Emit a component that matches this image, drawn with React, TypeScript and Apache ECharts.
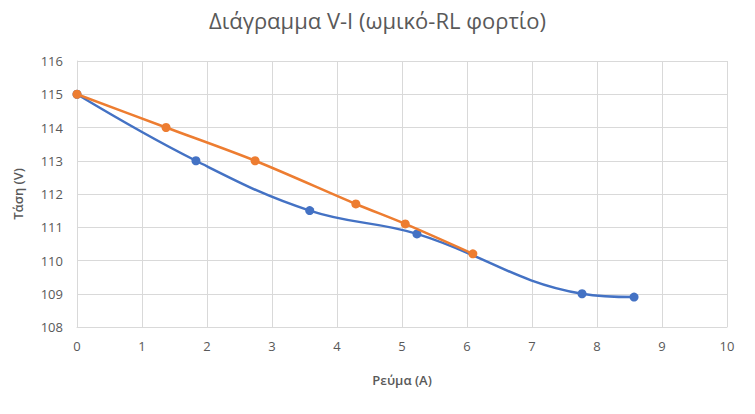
import React, { useEffect, useRef } from "react";
import * as echarts from "echarts";

const titleText = "Διάγραμμα V-I (ωμικό-RL φορτίο)";
const xName = "Ρεύμα (A)";
const yName = "Τάση (V)";

const blueI = [0, 1.83, 3.58, 5.23, 7.77, 8.57];
const blueV = [115, 113, 111.5, 110.8, 109, 108.9];
const orangeI = [0, 1.37, 2.74, 4.29, 5.05, 6.09];
const orangeV = [115, 114, 113, 111.7, 111.1, 110.2];

const FONT = "'Open Sans', 'Noto Sans', sans-serif";

export default function App() {
  const ref = useRef<HTMLDivElement>(null);
  useEffect(() => {
    if (!ref.current) return;
    const chart = echarts.init(ref.current, undefined, { renderer: "svg" });
    chart.setOption({
      animation: false,
      backgroundColor: "#ffffff",
      title: {
        text: titleText,
        left: "center",
        top: 4,
        textStyle: { fontFamily: FONT, fontSize: 22, fontWeight: "normal", color: "#595959" },
      },
      grid: { left: 77, right: 28, top: 61, bottom: 87 },
      xAxis: {
        type: "value",
        min: 0,
        max: 10,
        interval: 1,
        name: xName,
        nameLocation: "middle",
        nameGap: 46,
        nameTextStyle: { fontFamily: FONT, fontSize: 13, fontWeight: 600, color: "#595959" },
        axisLine: { show: true, lineStyle: { color: "#d9d9d9" } },
        axisTick: { show: false },
        axisLabel: { fontFamily: FONT, fontSize: 13, color: "#595959", margin: 12 },
        splitLine: { show: true, lineStyle: { color: "#d9d9d9", width: 1 } },
      },
      yAxis: {
        type: "value",
        min: 108,
        max: 116,
        interval: 1,
        name: yName,
        nameLocation: "middle",
        nameGap: 53,
        nameRotate: 90,
        nameTextStyle: { fontFamily: FONT, fontSize: 13, fontWeight: 600, color: "#595959" },
        axisLine: { show: true, lineStyle: { color: "#d9d9d9" } },
        axisTick: { show: false },
        axisLabel: { fontFamily: FONT, fontSize: 13, color: "#595959", margin: 14 },
        splitLine: { show: true, lineStyle: { color: "#d9d9d9", width: 1 } },
      },
      series: [
        {
          type: "line",
          data: blueI.map((x, i) => [x, blueV[i]]),
          smooth: 0.4,
          symbol: "circle",
          symbolSize: 9,
          lineStyle: { color: "#4472C4", width: 2.5 },
          itemStyle: { color: "#4472C4" },
          z: 2,
        },
        {
          type: "line",
          data: orangeI.map((x, i) => [x, orangeV[i]]),
          smooth: 0.3,
          symbol: "circle",
          symbolSize: 9,
          lineStyle: { color: "#ED7D31", width: 2.5 },
          itemStyle: { color: "#ED7D31" },
          z: 3,
        },
      ],
    });
    return () => chart.dispose();
  }, []);
  return <div ref={ref} style={{ width: 755, height: 414, position: "absolute", left: 0, top: 0 }} />;
}
